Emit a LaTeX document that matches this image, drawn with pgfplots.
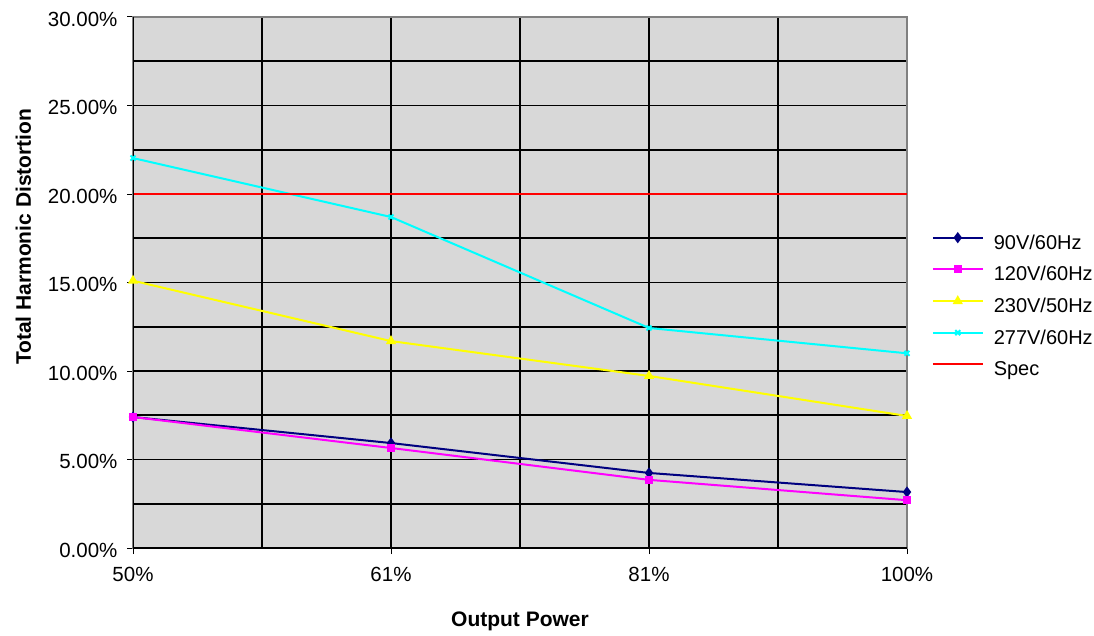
\documentclass[border=0pt]{standalone}
\usepackage{fontspec}
\setmainfont{Liberation Sans}
\usepackage{pgfplots}
\pgfplotsset{compat=1.18}
\definecolor{plotbg}{RGB}{216,216,216}
\definecolor{navyline}{RGB}{0,0,128}
\definecolor{pinkline}{RGB}{255,0,255}
\definecolor{yellowline}{RGB}{255,255,0}
\definecolor{cyanline}{RGB}{0,255,255}
\definecolor{redline}{RGB}{255,0,0}
\definecolor{axgray}{RGB}{128,128,128}

\begin{document}
\begin{tikzpicture}[x=1pt,y=1pt]
\path[use as bounding box] (0,0) rectangle (1094,635);
\begin{axis}[
    at={(133pt,87pt)}, anchor=origin,
    scale only axis,
    width=774pt, height=531pt,
    xmin=0, xmax=3, ymin=0, ymax=30,
    xtick={0,1,2,3},
    xticklabels={50\%,61\%,81\%,100\%},
    minor xtick={0.5,1.5,2.5},
    ytick={0,5,...,30},
    minor ytick={2.5,7.5,...,27.5},
    yticklabel={\pgfmathprintnumber[fixed,fixed zerofill,precision=2]{\tick}\%},
    /pgf/number format/assume math mode=true,
    xtick pos=bottom, ytick pos=left,
    grid=both,
    major grid style={black, line width=1.6pt},
    minor grid style={black, line width=1.6pt},
    minor tick length=0pt,
    major tick length=6pt,
    tick align=outside,
    tick style={black, line width=1pt},
    axis line style={axgray, line width=1.6pt},
    axis background/.style={fill=plotbg},
    tick label style={font=\fontsize{20.5}{24}\selectfont},
    xticklabel style={yshift=-10pt},
    yticklabel style={xshift=-6pt, yshift=-2pt},
    xlabel={Output Power},
    ylabel={Total Harmonic Distortion},
    label style={font=\fontsize{21}{25}\selectfont\bfseries},
    xlabel style={at={(axis description cs:0.5,-0.1375)}, anchor=center},
    ylabel style={at={(axis description cs:-0.1415,0.586)}, anchor=center},
    every axis plot/.append style={line width=2pt},
    legend style={at={(1.032,0.592)}, anchor=north west, draw=none, fill=none,
        inner sep=0pt, outer sep=0pt,
        font=\fontsize{20}{24}\selectfont, row sep=12.5pt, column sep=0pt,
        nodes={inner sep=0pt, text height=15pt, text depth=4pt}},
    legend cell align=left,
    legend image code/.code={
        \draw[mark repeat=2, mark phase=2, #1] plot coordinates {(0pt,6pt) (25pt,6pt) (50pt,6pt)};
        \path (60pt,0pt);
    },
]
\addplot[navyline, mark=diamond*, mark size=4pt, mark options={solid}]
    coordinates {(0,7.40) (1,5.93) (2,4.24) (3,3.16)};
\addlegendentry{90V/60Hz}
\addplot[pinkline, mark=square*, mark size=3.2pt]
    coordinates {(0,7.40) (1,5.65) (2,3.85) (3,2.70)};
\addlegendentry{120V/60Hz}
\addplot[yellowline, mark=triangle*, mark size=4pt]
    coordinates {(0,15.10) (1,11.69) (2,9.72) (3,7.46)};
\addlegendentry{230V/50Hz}
\addplot[cyanline, mark=x, mark size=3.5pt]
    coordinates {(0,22.03) (1,18.70) (2,12.43) (3,11.00)};
\addlegendentry{277V/60Hz}
\addplot[redline, mark=none]
    coordinates {(0,20) (1,20) (2,20) (3,20)};
\addlegendentry{Spec}
\draw[black, line width=1.6pt] (axis cs:0,30) -- (axis cs:0,0) -- (axis cs:3,0);
\end{axis}
\end{tikzpicture}
\end{document}
